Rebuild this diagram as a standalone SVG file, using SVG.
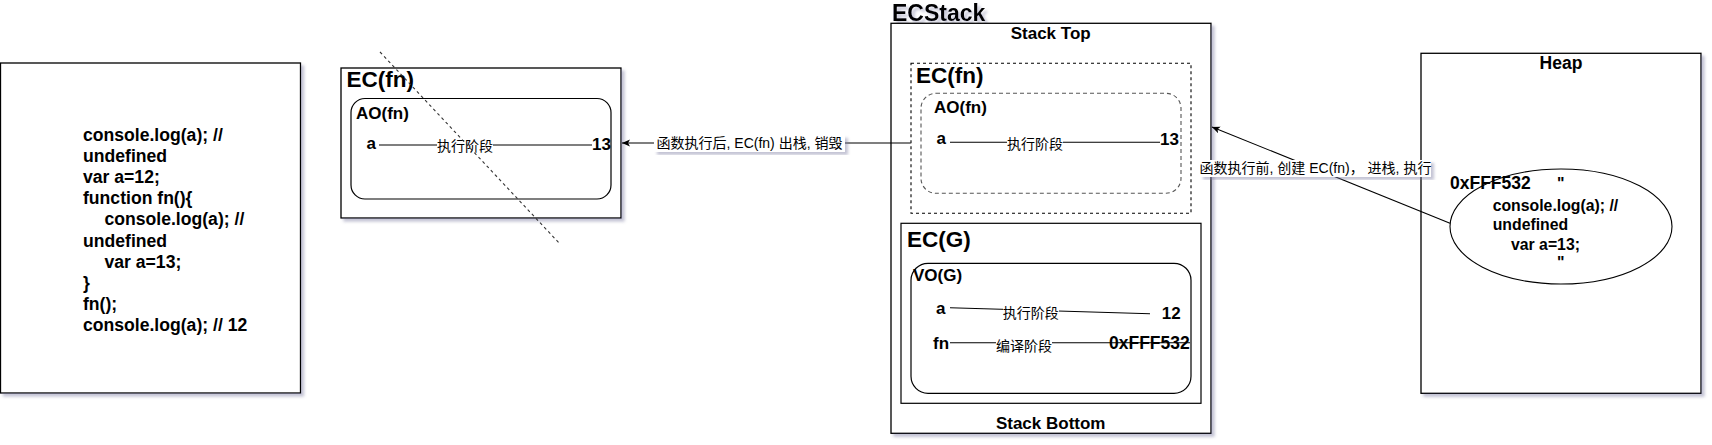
<svg xmlns="http://www.w3.org/2000/svg" width="1712" height="445" viewBox="0 0 1712 445">
<defs>
<filter id="sh" x="-10%" y="-10%" width="125%" height="125%"><feDropShadow dx="3" dy="3" stdDeviation="1.5" flood-color="#7d7da0" flood-opacity="0.45"/></filter>
<marker id="arr" markerWidth="9" markerHeight="8" refX="8" refY="3.5" orient="auto" markerUnits="userSpaceOnUse"><path d="M0,0 L8,3.5 L0,7 L2,3.5 z" fill="#000"/></marker>
</defs>
<style>
.box{fill:#fff;stroke:#000;stroke-width:1.3}
.rr{fill:none;stroke:#000;stroke-width:1.2}
.dash{fill:none;stroke:#000;stroke-width:1.1;stroke-dasharray:3 3}
.dashg{fill:none;stroke:#555;stroke-width:1.1;stroke-dasharray:4 3}
.ln{stroke:#000;stroke-width:1.1;fill:none}
.b{font-family:"Liberation Sans",Arial,sans-serif;font-weight:bold;fill:#000}
.code{font-size:17.6px}
.hc{font-size:15.8px}
.t17{font-size:17px}
.title{font-size:22.5px}
.cjk{font-family:"Liberation Sans","Noto Sans CJK SC",sans-serif;font-size:14px;fill:#000}
.lbg{fill:#fff}
</style>
<rect width="1712" height="445" fill="#fff"/>

<g id="code">
<rect class="box" x="0.5" y="63" width="300" height="330" filter="url(#sh)"/>
<text class="b code" x="83" y="141">console.log(a); //</text>
<text class="b code" x="83" y="162.1">undefined</text>
<text class="b code" x="83" y="183.2">var a=12;</text>
<text class="b code" x="83" y="204.3">function fn(){</text>
<text class="b code" x="104.5" y="225.4">console.log(a); //</text>
<text class="b code" x="83" y="246.5">undefined</text>
<text class="b code" x="104.5" y="267.6">var a=13;</text>
<text class="b code" x="83" y="288.7">}</text>
<text class="b code" x="83" y="309.8">fn();</text>
<text class="b code" x="83" y="330.9">console.log(a); // 12</text>
</g>

<g id="ec-fn-popped">
<rect class="box" x="341" y="68" width="280" height="150" filter="url(#sh)"/>
<text class="b title" x="346.5" y="86.7">EC(fn)</text>
<rect class="rr" x="351" y="98.5" width="260" height="100.5" rx="14"/>
<text class="b t17" x="356" y="119">AO(fn)</text>
<line class="ln" x1="379" y1="145" x2="592" y2="145"/>
<rect class="lbg" x="437" y="139" width="56" height="14"/>
<text class="cjk" x="465" y="151" text-anchor="middle">执行阶段</text>
<text class="b t17" x="366.5" y="149">a</text>
<text class="b t17" x="592" y="149.5">13</text>
</g>

<g id="cross">
<line x1="380" y1="52" x2="560" y2="244" stroke="#333" stroke-width="1.1" stroke-dasharray="3 3"/>
</g>

<g id="ecstack">
<text class="b" x="892" y="20.5" font-size="23px" fill="#1a1a1a" filter="url(#sh)">ECStack</text>
<rect class="box" x="891" y="23.3" width="320" height="410" filter="url(#sh)"/>
<text class="b t17" x="1050.7" y="39.3" text-anchor="middle">Stack Top</text>
<text class="b t17" x="1050.7" y="429.3" text-anchor="middle">Stack Bottom</text>
</g>

<g id="ec-fn">
<rect class="dash" x="911" y="63.3" width="280" height="150"/>
<text class="b title" x="916" y="83.3">EC(fn)</text>
<rect class="dashg" x="921" y="93.3" width="260" height="100" rx="15"/>
<text class="b t17" x="934" y="113.3">AO(fn)</text>
<line class="ln" x1="950" y1="142.3" x2="1160" y2="142.3"/>
<rect class="lbg" x="1007" y="136" width="56" height="14"/>
<text class="cjk" x="1035" y="148.5" text-anchor="middle">执行阶段</text>
<text class="b t17" x="936.5" y="144">a</text>
<text class="b t17" x="1160" y="144.5">13</text>
</g>

<g id="ec-g">
<rect class="rr" x="901" y="223.3" width="300" height="180"/>
<text class="b title" x="907" y="246.7">EC(G)</text>
<rect class="rr" x="911" y="263.3" width="280" height="130" rx="17"/>
<text class="b t17" x="913" y="281">VO(G)</text>
<line class="ln" x1="950" y1="307.7" x2="1150" y2="313.7"/>
<rect class="lbg" x="1003" y="305" width="56" height="14"/>
<text class="cjk" x="1030.7" y="317.5" text-anchor="middle">执行阶段</text>
<text class="b t17" x="936" y="314.3">a</text>
<text class="b t17" x="1161.7" y="319.3">12</text>
<line class="ln" x1="950" y1="342.7" x2="1190" y2="342.7"/>
<rect class="lbg" x="996" y="338" width="56" height="14"/>
<text class="cjk" x="1024" y="351" text-anchor="middle">编译阶段</text>
<text class="b t17" x="933" y="349.3">fn</text>
<text class="b" x="1109" y="349.3" font-size="17.5px">0xFFF532</text>
</g>

<g id="heap">
<rect class="box" x="1421" y="53.3" width="280" height="340" filter="url(#sh)"/>
<text class="b" x="1561" y="69.3" font-size="17.5px" text-anchor="middle">Heap</text>
<ellipse cx="1561" cy="226.5" rx="111" ry="57.5" fill="none" stroke="#000" stroke-width="1.1"/>
<text class="b" x="1450" y="189" font-size="17.5px">0xFFF532</text>
<text class="b hc" x="1557" y="189">"</text>
<text class="b hc" x="1492.7" y="210.5">console.log(a); //</text>
<text class="b hc" x="1492.7" y="230.3">undefined</text>
<text class="b hc" x="1511" y="250">var a=13;</text>
<text class="b hc" x="1557" y="268">"</text>
</g>

<g id="connectors">
<line class="ln" x1="910.7" y1="143" x2="622" y2="143" marker-end="url(#arr)"/>
<rect class="lbg" x="654" y="135" width="191" height="17" filter="url(#sh)"/>
<text class="cjk" x="749.5" y="148" text-anchor="middle">函数执行后, EC(fn) 出栈, 销毁</text>
<line class="ln" x1="1450" y1="223.3" x2="1212" y2="127" marker-end="url(#arr)"/>
<rect class="lbg" x="1200" y="160" width="231" height="17" filter="url(#sh)"/>
<text class="cjk" x="1315.5" y="173" text-anchor="middle">函数执行前, 创建 EC(fn)， 进栈, 执行</text>
</g>
</svg>
